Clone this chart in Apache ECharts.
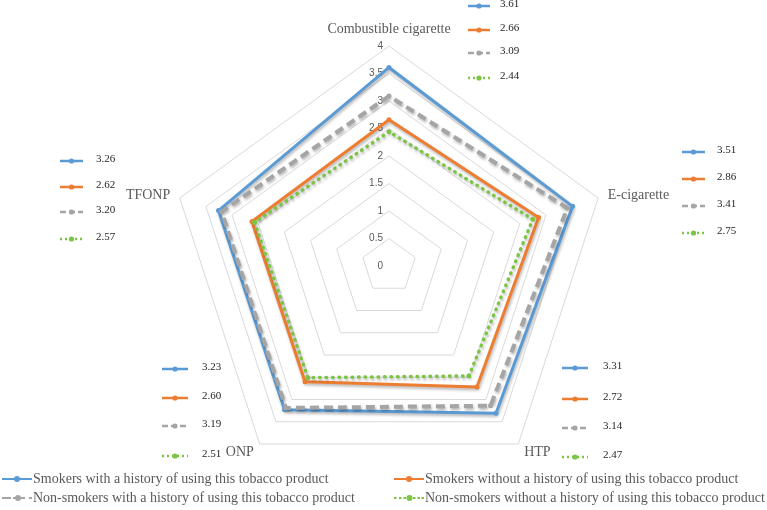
<!DOCTYPE html>
<html><head><meta charset="utf-8">
<script src="https://cdn.jsdelivr.net/npm/echarts@6/dist/echarts.min.js"></script>
<style>html,body{margin:0;padding:0;background:#fff}#c{width:767px;height:510px}</style>
</head><body><div id="c"></div>
<script>
const categories = ['Combustible cigarette', 'E-cigarette', 'HTP', 'ONP', 'TFONP'];
const seriesNames = [
  'Smokers with a history of using this tobacco product',
  'Smokers without a history of using this tobacco product',
  'Non-smokers with a history of using this tobacco product',
  'Non-smokers without a history of using this tobacco product'
];
const smokersWith = [3.61, 3.51, 3.31, 3.23, 3.26];
const smokersWithout = [2.66, 2.86, 2.72, 2.60, 2.62];
const nonSmokersWith = [3.09, 3.41, 3.14, 3.19, 3.20];
const nonSmokersWithout = [2.44, 2.75, 2.47, 2.51, 2.57];
const axisMin = 0, axisMax = 4, axisStep = 0.5;

const allSeries = [smokersWith, smokersWithout, nonSmokersWith, nonSmokersWithout];
const colors = ['#5B9BD5', '#ED7D31', '#A5A5A5', '#7CC443'];
const serif = '"Liberation Serif", "Times New Roman", serif';

// ECharts places radar indicators counter-clockwise; reference goes clockwise
const order = [0, 4, 3, 2, 1];

// value boxes layout (per category, reference order)
const boxLayout = [
  {x0: 468, x1: 490, tx: 500, ys: [6, 30, 53, 78]},
  {x0: 682, x1: 705, tx: 717, ys: [152, 179, 206, 233]},
  {x0: 562, x1: 588, tx: 603, ys: [368, 399, 428, 457]},
  {x0: 162, x1: 188, tx: 202, ys: [369, 398, 426, 456]},
  {x0: 60, x1: 83, tx: 96, ys: [161, 187, 212, 239]}
];

const lineStyles = [
  {width: 3, type: 'solid'},
  {width: 3, type: 'solid'},
  {width: 4, type: [9, 5]},
  {width: 3.5, type: [0.5, 6], cap: 'round'}
];

const chart = echarts.init(document.getElementById('c'), null, {renderer: 'canvas'});

const indicator = order.map((k, i) => {
  const o = {name: categories[k], min: axisMin, max: axisMax};
  if (i === 0) o.axisLabel = {show: true};
  return o;
});

const graphics = [];
boxLayout.forEach((b, j) => {
  allSeries.forEach((arr, i) => {
    const y = b.ys[i];
    const mid = (b.x0 + b.x1) / 2;
    graphics.push({
      type: 'line', silent: true,
      shape: {x1: b.x0, y1: y, x2: b.x1, y2: y},
      style: {stroke: colors[i], lineWidth: 2.5,
        lineDash: i === 2 ? [6, 3] : (i === 3 ? [2, 3] : null)}
    });
    graphics.push({
      type: 'circle', silent: true,
      shape: {cx: mid, cy: y, r: 2.6},
      style: {fill: colors[i]}
    });
    graphics.push({
      type: 'text', silent: true, left: b.tx, top: y - 7,
      style: {text: arr[j].toFixed(2), fill: '#262626', font: '11px ' + serif}
    });
  });
});

const dot = cx => 'M' + (cx - 3) + ',3a3,3 0 1 1 6,0a3,3 0 1 1 -6,0z';
const legendIcons = [
  'path://M0,1.9h30v2.2h-30z ' + dot(15),
  'path://M0,1.9h30v2.2h-30z ' + dot(15),
  'path://M0,1.9h9v2.2h-9z M11,1.9h3v2.2h-3z M19,1.9h4v2.2h-4z M27,1.9h3v2.2h-3z ' + dot(16),
  'path://M0,1.9h2.5v2.2h-2.5z M5,1.9h2.5v2.2h-2.5z M9.5,1.9h2.5v2.2h-2.5z M19,1.9h2.5v2.2h-2.5z M23.5,1.9h2.5v2.2h-2.5z M27.5,1.9h2.5v2.2h-2.5z ' + dot(15.5)
];
const legendPos = [[2, 472], [394, 472], [2, 491], [394, 491]];
const legends = seriesNames.map((n, i) => ({
  data: [{name: n, icon: legendIcons[i],
    itemStyle: {color: colors[i], borderWidth: 0, opacity: 1}}],
  left: legendPos[i][0], top: legendPos[i][1],
  itemWidth: 30, itemHeight: 6, padding: 0, itemGap: 0,
  selectedMode: false,
  textStyle: {fontFamily: serif, fontSize: 14, color: '#595959', padding: [0, 0, 0, -4]}
}));

chart.setOption({
  animation: false,
  color: colors,
  legend: legends,
  radar: {
    center: [389, 266],
    radius: 220,
    startAngle: 90,
    splitNumber: (axisMax - axisMin) / axisStep,
    shape: 'polygon',
    indicator: indicator,
    axisName: {color: '#595959', fontFamily: serif, fontSize: 14},
    nameGap: 10,
    axisLine: {show: false},
    axisTick: {show: false},
    splitArea: {show: false},
    splitLine: {lineStyle: {color: '#D9D9D9', width: 1}},
    axisLabel: {show: false, color: '#595959', fontSize: 10, fontFamily: '"Liberation Sans", Arial, sans-serif', margin: 6,
      formatter: v => String(v)}
  },
  series: allSeries.map((arr, i) => ({
    type: 'radar',
    name: seriesNames[i],
    symbol: 'circle',
    symbolSize: 5,
    z: 2 + i,
    lineStyle: Object.assign({color: colors[i], shadowColor: 'rgba(0,0,0,0.3)', shadowBlur: 3, shadowOffsetX: 1, shadowOffsetY: 2}, lineStyles[i]),
    itemStyle: {color: colors[i]},
    data: [{value: order.map(k => arr[k]), name: seriesNames[i]}]
  })),
  graphic: graphics
});
</script></body></html>
